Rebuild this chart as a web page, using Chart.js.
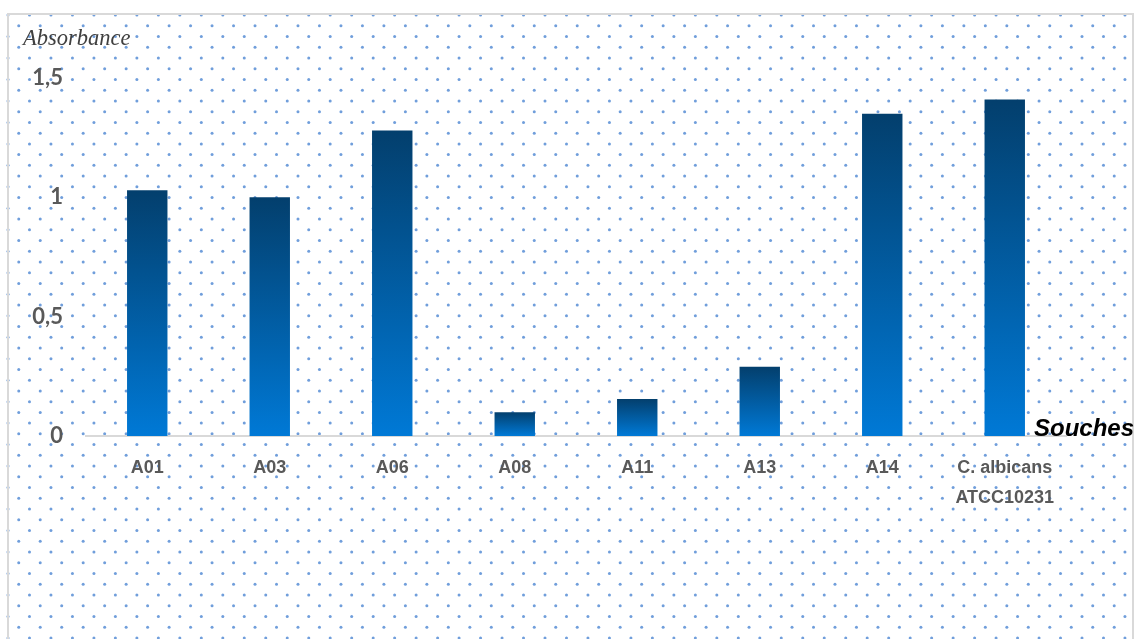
<!DOCTYPE html>
<html>
<head>
<meta charset="utf-8">
<script src="https://cdn.jsdelivr.net/npm/chart.js@4/dist/chart.umd.min.js"></script>
<style>
  html, body { margin: 0; padding: 0; background: #ffffff; }
  #wrap { width: 1137px; height: 639px; position: relative; }
</style>
</head>
<body>
<div id="wrap"><canvas id="absChart"></canvas></div>
<script>
// Absorbance par souche
const souches = ['A01', 'A03', 'A06', 'A08', 'A11', 'A13', 'A14', ['C. albicans', 'ATCC10231']];
const absorbance = [1.03, 1.0, 1.28, 0.10, 0.155, 0.29, 1.35, 1.41];
const yTicks = [0, 0.5, 1, 1.5];

// dotted background + outer frame, like the office chart style
const backgroundPlugin = {
    id: 'dotBackground',
    beforeDraw(chart) {
        const c = chart.ctx;
        c.save();
        c.fillStyle = '#ffffff';
        c.fillRect(0, 0, chart.width, chart.height);
        c.fillStyle = 'rgba(76, 134, 210, 0.8)';
        const dx = 21.48, dy = 10.74;
        for (let row = 0; 15 + row * dy < chart.height; row++) {
            const y = 15 + row * dy;
            const x0 = row % 2 === 0 ? 8 : 18.74;
            for (let x = x0; x < 1133; x += dx) {
                c.beginPath();
                c.arc(x, y, 1.5, 0, Math.PI * 2);
                c.fill();
            }
        }
        c.strokeStyle = '#d9d9d9';
        c.lineWidth = 2;
        c.strokeRect(8, 14, 1125, 700);
        c.restore();
    },
    afterDraw(chart) {
        const c = chart.ctx;
        c.save();
        c.textBaseline = 'alphabetic';
        c.textAlign = 'left';
        c.fillStyle = '#404040';
        c.font = 'italic 22.5px "Liberation Serif"';
        c.fillText('Absorbance', 23, 45);
        c.fillStyle = '#000000';
        c.font = 'italic bold 24px "Liberation Sans"';
        c.fillText('Souches', 1034, 436);
        c.restore();
    }
};

function barGradient(context) {
    const chart = context.chart;
    if (!chart.chartArea || context.raw === undefined) return '#0a5a9c';
    const yScale = chart.scales.y;
    const top = yScale.getPixelForValue(context.raw);
    const base = yScale.getPixelForValue(0);
    const g = chart.ctx.createLinearGradient(0, top, 0, base);
    g.addColorStop(0, '#033f6d');
    g.addColorStop(1, '#0079d6');
    return g;
}

new Chart(document.getElementById('absChart'), {
    type: 'bar',
    data: {
        labels: souches,
        datasets: [{
            label: 'Absorbance',
            data: absorbance,
            backgroundColor: barGradient,
            borderWidth: 0,
            barPercentage: 0.33,
            categoryPercentage: 1.0
        }]
    },
    options: {
        responsive: true,
        maintainAspectRatio: false,
        animation: false,
        layout: {
            padding: { left: 8, right: 71, top: 78, bottom: 0 }
        },
        plugins: {
            legend: { display: false },
            tooltip: { enabled: false }
        },
        scales: {
            x: {
                grid: { display: false },
                border: { display: true, color: '#d9d9d9', width: 2 },
                ticks: {
                    color: '#595959',
                    font: { family: '"Liberation Sans"', size: 18, weight: 'bold', lineHeight: 1.65 },
                    padding: 9,
                    maxRotation: 0,
                    autoSkip: false
                },
                afterFit(scale) { scale.height = 203; }
            },
            y: {
                min: 0,
                max: 1.5,
                grid: { display: false, drawTicks: false },
                border: { display: false },
                afterBuildTicks(scale) {
                    scale.ticks = yTicks.map(v => ({ value: v }));
                },
                ticks: {
                    color: '#595959',
                    font: { family: 'Lato', size: 22, weight: 'bold' },
                    padding: 23,
                    callback: v => String(v).replace('.', ',')
                },
                afterFit(scale) { scale.width = 78; }
            }
        }
    },
    plugins: [backgroundPlugin]
});
</script>
</body>
</html>
